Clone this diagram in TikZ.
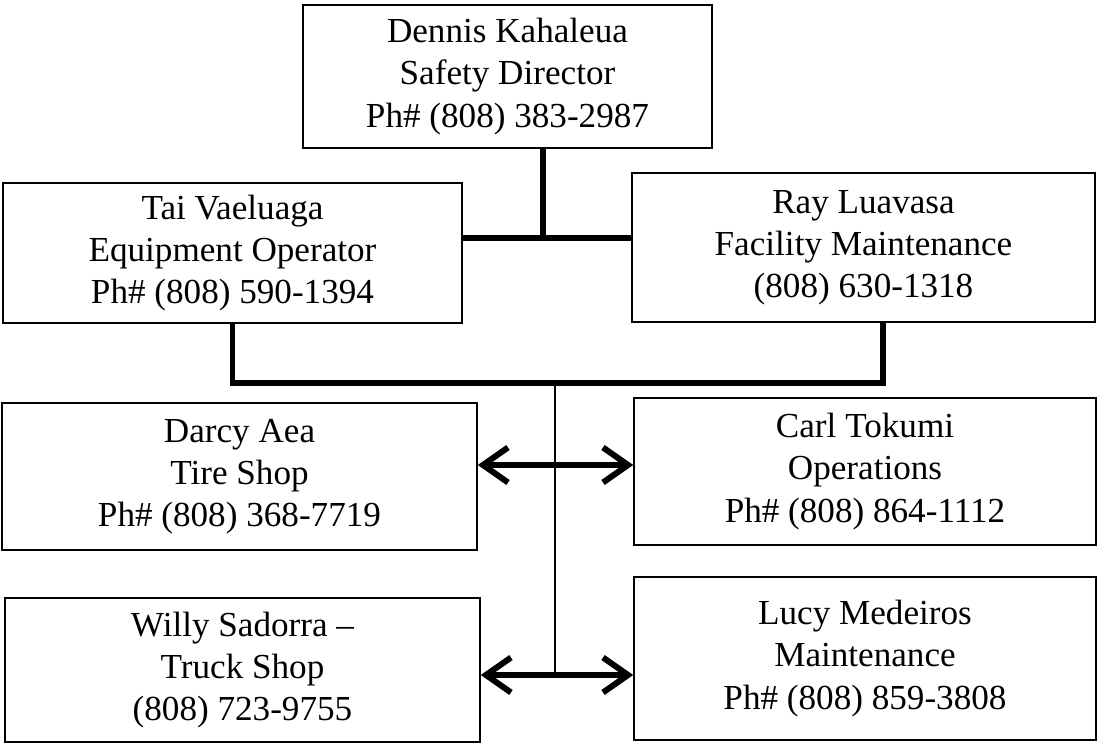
\documentclass[tikz,border=0pt]{standalone}
\usepackage{fontspec}
\setmainfont{Liberation Serif}
\usetikzlibrary{arrows.meta,calc}
\tikzset{
  person/.style={draw, line width=0.9pt, align=center, inner sep=0pt,
    font=\fontsize{20}{24}\selectfont},
  link/.style={line width=2.9pt},
  trunk/.style={line width=1.7pt},
  twoway/.style={line width=3.4pt, {Straight Barb[length=5mm,width=7mm,line width=3.4pt]}-{Straight Barb[length=5mm,width=7mm,line width=3.4pt]}}
}

\begin{document}
\begin{tikzpicture}[x=0.02cm, y=-0.02cm]
			%%%%% START %%%%%
			\useasboundingbox (0, 0) rectangle (1099, 746);
			
			\node[person, minimum width=409*0.02cm, minimum height=143*0.02cm] (dk) at (507.5, 76.5)
				{Dennis Kahaleua\\Safety Director\\Ph\# (808) 383-2987};
			\node[person, minimum width=459*0.02cm, minimum height=140*0.02cm] (tv) at (232.5, 253)
				{Tai Vaeluaga\\Equipment Operator\\Ph\# (808) 590-1394};
			\node[person, minimum width=463*0.02cm, minimum height=149*0.02cm] (rl) at (863.5, 247.5)
				{Ray Luavasa\\Facility Maintenance\\(808) 630-1318};
			
			\node[person, minimum width=475*0.02cm, minimum height=147*0.02cm] (da) at (239.5, 476.5)
				{Darcy Aea\\Tire Shop\\Ph\# (808) 368-7719};
			\node[person, minimum width=462*0.02cm, minimum height=147*0.02cm] (ct) at (865, 471.5)
				{Carl Tokumi\\Operations\\Ph\# (808) 864-1112};
			
			\node[person, minimum width=475*0.02cm, minimum height=144*0.02cm] (ws) at (242.5, 670)
				{Willy Sadorra --\\Truck Shop\\(808) 723-9755};
			\node[person, minimum width=462*0.02cm, minimum height=163*0.02cm] (lm) at (865, 658.5)
				{Lucy Medeiros\\Maintenance\\Ph\# (808) 859-3808};
			
			\coordinate (j1) at (543, 238);
			\coordinate (j2) at (555, 383);
			\coordinate (rlfoot) at (883, 322);
			\coordinate (a1) at (555, 465);
			\coordinate (a2) at (555, 675);
			
			% top level
			\draw[link] (dk.south -| j1) -- (j1);
			\draw[link] (j1 -| tv.east) -- (j1 -| rl.west);
			
			% second level
			\draw[link] (tv.south) |- (j2) -| (rlfoot);
			\draw[trunk] (j2) -- (a2);
			
			% arrows
			\draw[twoway] (a1 -| da.east) -- (a1 -| ct.west);
			\draw[twoway] (a2 -| ws.east) -- (a2 -| lm.west);
			
			%%%%% END %%%%%
\end{tikzpicture}
\end{document}
